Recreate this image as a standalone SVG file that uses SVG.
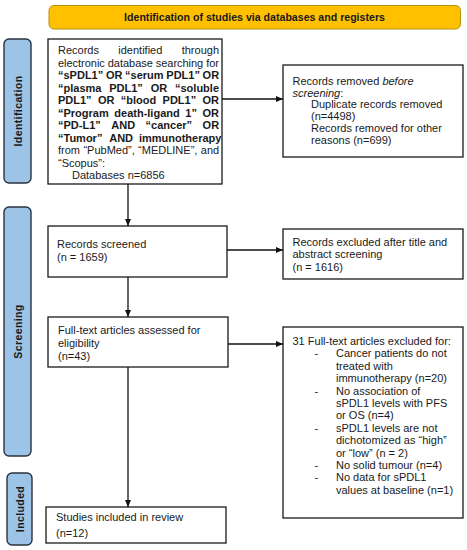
<svg xmlns="http://www.w3.org/2000/svg" width="467" height="550" viewBox="0 0 467 550">
<defs>
<marker id="ah" markerWidth="7" markerHeight="6" refX="7" refY="3" orient="auto" markerUnits="userSpaceOnUse">
<path d="M0,0 L7,3 L0,6 Z" fill="#111"/>
</marker>
<style>
.t{font-family:"Liberation Sans",Arial,sans-serif;font-size:11px;fill:#1a1a1a}
.b{font-weight:bold}
.box{fill:#fff;stroke:#1a1a1a;stroke-width:1.3}
.side{fill:#9DC3E6;stroke:#2a3340;stroke-width:1.4}
.sl{font-family:"Liberation Sans",Arial,sans-serif;font-size:10.5px;font-weight:bold;fill:#1a1a1a;text-anchor:middle;letter-spacing:0.4px}
.c{stroke:#111;stroke-width:1.3;fill:none}
</style>
</defs>
<rect width="467" height="550" fill="#fff"/>

<g id="header">
<rect x="49" y="5.5" width="411.5" height="23.5" rx="5" fill="#FFC000" stroke="#B8900A" stroke-width="1"/>
<text class="t b" x="254.5" y="21" text-anchor="middle" style="font-size:10.6px">Identification of studies via databases and registers</text>
</g>

<g id="side-identification">
<rect class="side" x="4" y="39" width="27" height="144" rx="5"/>
<text class="sl" transform="translate(21.5,111) rotate(-90)">Identification</text>
</g>
<g id="side-screening">
<rect class="side" x="4" y="207" width="27" height="249" rx="5"/>
<text class="sl" transform="translate(21.5,331.5) rotate(-90)">Screening</text>
</g>
<g id="side-included">
<rect class="side" x="7" y="473" width="25" height="72" rx="5"/>
<text class="sl" transform="translate(23.5,509) rotate(-90)">Included</text>
</g>

<g id="records-identified">
<rect class="box" x="48" y="39" width="174" height="145"/>
<text class="t" y="54"><tspan x="58">Records</tspan><tspan x="118.3">identified</tspan><tspan x="181.7">through</tspan></text>
<text class="t" x="58" y="66.5" textLength="161" lengthAdjust="spacing">electronic database searching for</text>
<text class="t b" y="79"><tspan x="58">“sPDL1”</tspan><tspan x="105.9">OR</tspan><tspan x="125.1">“serum</tspan><tspan x="166.3">PDL1”</tspan><tspan x="202.6">OR</tspan></text>
<text class="t b" y="91.5"><tspan x="58">“plasma</tspan><tspan x="109.2">PDL1”</tspan><tspan x="150.7">OR</tspan><tspan x="175">“soluble</tspan></text>
<text class="t b" y="104"><tspan x="58">PDL1”</tspan><tspan x="98">OR</tspan><tspan x="120.8">“blood</tspan><tspan x="162.6">PDL1”</tspan><tspan x="202.5">OR</tspan></text>
<text class="t b" y="116.5"><tspan x="58">“Program</tspan><tspan x="114.3">death-ligand</tspan><tspan x="185.3">1”</tspan><tspan x="202.5">OR</tspan></text>
<text class="t b" y="129"><tspan x="58">“PD-L1”</tspan><tspan x="111.3">AND</tspan><tspan x="145.6">“cancer”</tspan><tspan x="202.6">OR</tspan></text>
<text class="t b" y="141.5"><tspan x="58">“Tumor”</tspan><tspan x="109.2">AND</tspan><tspan x="138.9">immunotherapy</tspan></text>
<text class="t" y="154"><tspan x="58">from</tspan><tspan x="83.4">“PubMed”,</tspan><tspan x="138.1">“MEDLINE”,</tspan><tspan x="200.8">and</tspan></text>
<text class="t" x="58" y="166.5">“Scopus”:</text>
<text class="t" x="72" y="179">Databases n=6856</text>
</g>

<g id="records-removed">
<rect class="box" x="283" y="65" width="180" height="92"/>
<text class="t" x="292.5" y="85">Records removed <tspan font-style="italic">before</tspan></text>
<text class="t" x="292.5" y="96.7"><tspan font-style="italic">screening</tspan>:</text>
<text class="t" x="311" y="108.4">Duplicate records removed</text>
<text class="t" x="311" y="120.1">(n=4498)</text>
<text class="t" x="311" y="131.8">Records removed for other</text>
<text class="t" x="311" y="143.5">reasons (n=699)</text>
</g>

<g id="records-screened">
<rect class="box" x="48" y="226" width="179" height="51"/>
<text class="t" x="57" y="248">Records screened</text>
<text class="t" x="57" y="261">(n = 1659)</text>
</g>

<g id="records-excluded">
<rect class="box" x="283" y="229" width="180" height="50"/>
<text class="t" x="292.5" y="245.5">Records excluded after title and</text>
<text class="t" x="292.5" y="258">abstract screening</text>
<text class="t" x="292.5" y="270.5">(n = 1616)</text>
</g>

<g id="fulltext-assessed">
<rect class="box" x="48" y="317" width="180" height="50"/>
<text class="t" x="58" y="334">Full-text articles assessed for</text>
<text class="t" x="58" y="346.5">eligibility</text>
<text class="t" x="58" y="360">(n=43)</text>
</g>

<g id="fulltext-excluded">
<rect class="box" x="283" y="327" width="180" height="191"/>
<text class="t" x="292.5" y="345">31 Full-text articles excluded for:</text>
<text class="t" x="314.5" y="357.4">-</text>
<text class="t" x="336" y="357.4">Cancer patients do not</text>
<text class="t" x="336" y="369.8">treated with</text>
<text class="t" x="336" y="382.2">immunotherapy (n=20)</text>
<text class="t" x="314.5" y="394.6">-</text>
<text class="t" x="336" y="394.6">No association of</text>
<text class="t" x="336" y="407">sPDL1 levels with PFS</text>
<text class="t" x="336" y="419.4">or OS (n=4)</text>
<text class="t" x="314.5" y="431.8">-</text>
<text class="t" x="336" y="431.8">sPDL1 levels are not</text>
<text class="t" x="336" y="444.2">dichotomized as “high”</text>
<text class="t" x="336" y="456.6">or “low” (n = 2)</text>
<text class="t" x="314.5" y="469">-</text>
<text class="t" x="336" y="469">No solid tumour (n=4)</text>
<text class="t" x="314.5" y="481.4">-</text>
<text class="t" x="336" y="481.4">No data for sPDL1</text>
<text class="t" x="336" y="493.8">values at baseline (n=1)</text>
</g>

<g id="studies-included">
<rect class="box" x="46" y="507" width="180" height="36"/>
<text class="t" x="56" y="521">Studies included in review</text>
<text class="t" x="56" y="537">(n=12)</text>
</g>

<g id="connectors">
<line class="c" x1="128" y1="184" x2="128" y2="226" marker-end="url(#ah)"/>
<line class="c" x1="128" y1="277" x2="128" y2="317" marker-end="url(#ah)"/>
<line class="c" x1="128" y1="367" x2="128" y2="507" marker-end="url(#ah)"/>
<line class="c" x1="222" y1="99" x2="283" y2="99" marker-end="url(#ah)"/>
<line class="c" x1="227" y1="250" x2="283" y2="250" marker-end="url(#ah)"/>
<line class="c" x1="228" y1="344" x2="283" y2="344" marker-end="url(#ah)"/>
</g>
</svg>
